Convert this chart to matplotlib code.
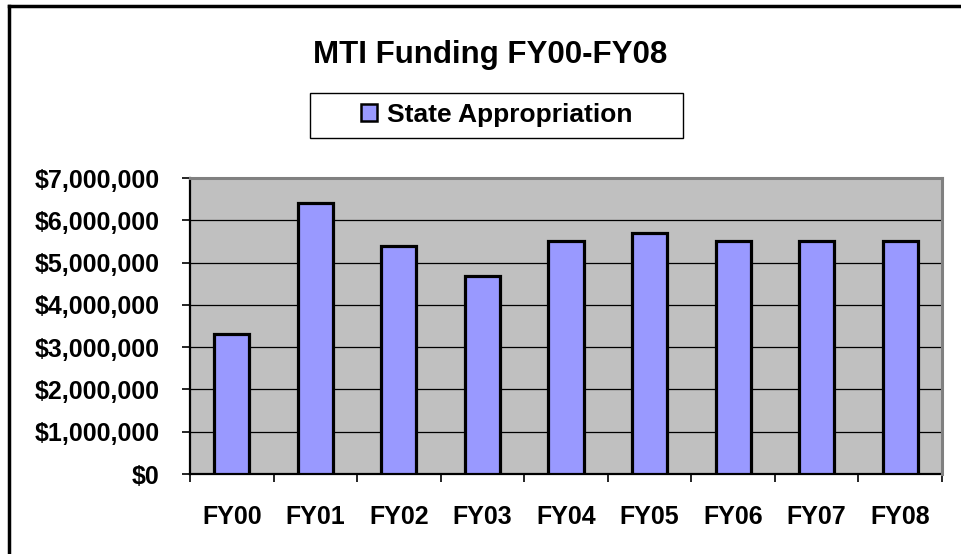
import matplotlib.pyplot as plt
from matplotlib.lines import Line2D
from matplotlib.patches import Rectangle, Patch
from matplotlib.ticker import FuncFormatter, FixedLocator, NullFormatter
import numpy as np

plt.rcParams['font.family'] = ['Liberation Sans', 'DejaVu Sans']
plt.rcParams['font.weight'] = 'bold'

years = ['FY00', 'FY01', 'FY02', 'FY03', 'FY04', 'FY05', 'FY06', 'FY07', 'FY08']
appropriation = [3310000, 6400000, 5400000, 4690000, 5500000, 5690000, 5500000, 5500000, 5500000]

W, H = 962, 554
fig = plt.figure(figsize=(W / 100, H / 100), dpi=100)
fig.patch.set_facecolor('white')

ax = fig.add_axes([190 / W, 1 - 474 / H, 752 / W, 296 / H])
ax.set_facecolor('#C0C0C0')

x = np.arange(len(years))
ax.bar(x, appropriation, width=0.42, color='#9999FF', edgecolor='black',
       linewidth=2.3, zorder=3)

ax.set_xlim(-0.5, len(years) - 0.5)
ax.set_ylim(0, 7000000)
ax.set_yticks(np.arange(0, 7000001, 1000000))
ax.yaxis.set_major_formatter(FuncFormatter(lambda v, p: '${:,.0f}'.format(v)))
ax.grid(axis='y', color='black', linewidth=0.9, zorder=1)

# category ticks sit between the bars, labels under the bars
ax.xaxis.set_major_locator(FixedLocator(np.arange(-0.5, len(years), 1.0)))
ax.xaxis.set_major_formatter(NullFormatter())
ax.set_xticks(x, minor=True)
ax.set_xticklabels(years, minor=True)
ax.tick_params(axis='x', which='minor', length=0, pad=22, labelsize=18)
ax.tick_params(axis='x', which='major', length=6, width=1.2, direction='out')
ax.tick_params(axis='y', length=6, width=1.2, direction='out', pad=16, labelsize=18)

for s in ['left', 'bottom']:
    ax.spines[s].set_color('black')
    ax.spines[s].set_linewidth(1.6)
for s in ['top', 'right']:
    ax.spines[s].set_color('#808080')
    ax.spines[s].set_linewidth(2.2)
    ax.spines[s].set_zorder(4)

fig.text(490 / W, 1 - 55 / H, 'MTI Funding FY00-FY08', ha='center', va='center',
         fontsize=22.5, fontweight='bold')

# legend box
fig.patches.append(Rectangle((310 / W, 1 - 138 / H), 373 / W, 45 / H,
                             transform=fig.transFigure, facecolor='white',
                             edgecolor='black', linewidth=1.0))
fig.legend(handles=[Patch(facecolor='#9999FF', edgecolor='black', linewidth=1.8,
                          label='State Appropriation')],
           loc='center', bbox_to_anchor=(497 / W, 1 - 115 / H), frameon=False,
           handlelength=0.6, handleheight=0.6, handletextpad=0.4,
           prop={'weight': 'bold', 'size': 19})

# outer frame (top and left edges)
fig.add_artist(Line2D([9 / W, 1], [1 - 6 / H, 1 - 6 / H], color='black', linewidth=2.5,
                      transform=fig.transFigure))
fig.add_artist(Line2D([9 / W, 9 / W], [0, 1 - 6 / H], color='black', linewidth=2.5,
                      transform=fig.transFigure))

fig.savefig('out.png', dpi=100)
